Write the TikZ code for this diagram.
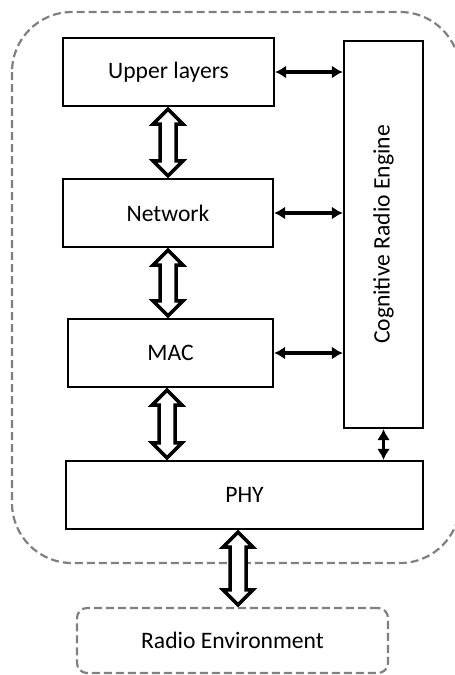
\documentclass[tikz,border=0pt]{standalone}
\usepackage{fontspec}
\setmainfont{Carlito}
\usetikzlibrary{arrows.meta,calc}

\definecolor{dashgray}{RGB}{128,128,128}

\tikzset{
  layer/.style={draw, line width=2.2pt, inner sep=0pt,
    font=\fontsize{23.6}{28}\selectfont},
  zone/.style={draw=dashgray, line width=2.2pt, dash pattern=on 8pt off 4pt},
  link/.style={line width=3.4pt,
    {Latex[length=11pt,width=13pt]}-{Latex[length=11pt,width=13pt]}},
  wide/.style={draw, line width=3.5pt, fill=white, line join=miter},
}

% Hollow two-headed arrow between two anchors at a given x position
\newcommand{\widearrow}[3]{%
  \path (#1,0) coordinate (wx);
  \path ($(#2 -| wx)+(0,2)$) coordinate (wt) ($(#3 -| wx)+(0,-2)$) coordinate (wb);
  \draw[wide] (wt) -- ++(15,15) -- ++(-7,0) -- ($(wb)+(8,-15)$) -- ++(7,0)
    -- (wb) -- ++(-15,-15) -- ++(7,0) -- ($(wt)+(-8,15)$) -- ++(-7,0) -- cycle;
}

\begin{document}
\begin{tikzpicture}[x=1pt,y=-1pt]
  \useasboundingbox (0,0) rectangle (455,675);

  % dashed enclosure of the protocol stack
  \draw[zone, rounded corners=60pt] (12,12) rectangle (460,563);

  % protocol layers
  \node[layer, minimum width=211pt, minimum height=68pt] (up)  at (168.5,72)  {Upper layers};
  \node[layer, minimum width=210pt, minimum height=68pt] (net) at (168,213)   {Network};
  \node[layer, minimum width=205pt, minimum height=68pt] (mac) at (170.5,353) {MAC};
  \node[layer, minimum width=357pt, minimum height=68pt] (phy) at (244.5,495) {PHY};

  % cognitive engine
  \node[layer, minimum width=79pt, minimum height=387pt] (cre) at (383.5,234.5) {};
  \node[rotate=90, font=\fontsize{23.6}{28}\selectfont] (crelabel) at (cre.center) {Cognitive Radio Engine};

  % environment
  \node[zone, rounded corners=10pt, minimum width=311pt, minimum height=65pt,
        inner sep=0pt, font=\fontsize{23.6}{28}\selectfont] (env) at (232.5,640.5) {Radio Environment};

  % links to the engine
  \draw[link] (up.east)  -- (up.east -| cre.west);
  \draw[link] (net.east) -- (net.east -| cre.west);
  \draw[link] (mac.east) -- (mac.east -| cre.west);
  \draw[link] (cre.south) -- (cre.south |- phy.north);

  % data flow between layers
  \widearrow{168}{up.south}{net.north}
  \widearrow{168}{net.south}{mac.north}
  \widearrow{167}{mac.south}{phy.north}
  \widearrow{238}{phy.south}{env.north}
\end{tikzpicture}
\end{document}
